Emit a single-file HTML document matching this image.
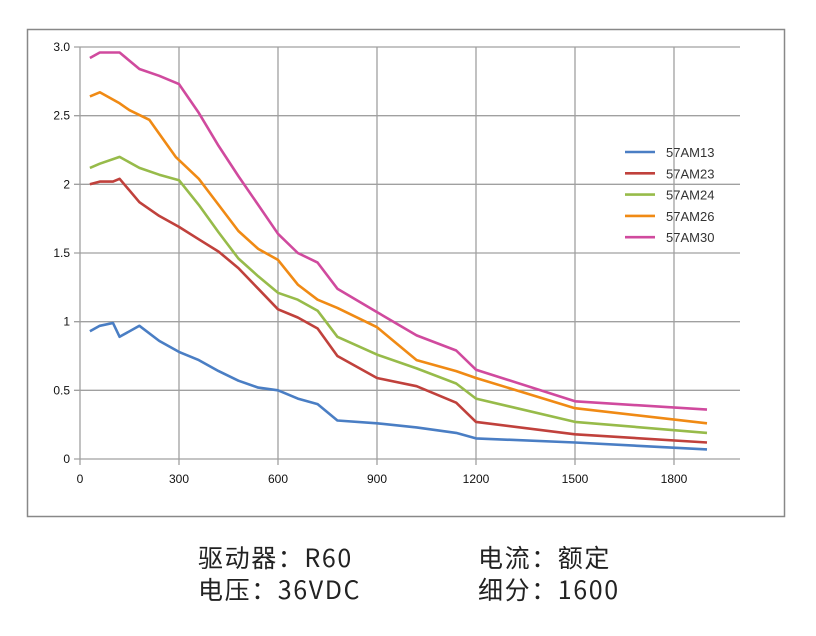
<!DOCTYPE html>
<html><head><meta charset="utf-8"><style>
body{margin:0;background:#fff;width:816px;height:636px;overflow:hidden;font-family:"Liberation Sans","Noto Sans CJK SC",sans-serif}
.cap{position:absolute;font-size:25px;color:#222;font-family:"Noto Sans CJK SC","Liberation Sans",sans-serif;letter-spacing:1.6px}
</style></head><body>
<svg width="816" height="636" style="position:absolute;left:0;top:0">
<rect x="27.5" y="29.5" width="757" height="487" fill="#fff" stroke="#888" stroke-width="1.5"/>
<g id="grid"></g><g id="series"></g><g id="legend"></g>
</svg>
<div class="cap" style="left:198px;top:539px">驱动器：R60</div>
<div class="cap" style="left:478px;top:539px">电流：额定</div>
<div class="cap" style="left:198px;top:571px">电压：36VDC</div>
<div class="cap" style="left:478px;top:571px">细分：1600</div>
<script>
const xTicks=[0,300,600,900,1200,1500,1800];
const yTicks=[0,0.5,1,1.5,2,2.5,3];
const yTickLabels=["0","0.5","1","1.5","2","2.5","3.0"];
const seriesNames=["57AM13","57AM23","57AM24","57AM26","57AM30"];
const seriesColors=["#4a7ec4","#c0413c","#97bb4a","#f08a14","#d04a9e"];
const xBlue=[30,60,100,120,180,240,300,360,420,480,540,600,660,720,780,900,1020,1140,1200,1500,1900];
const yBlue=[0.93,0.97,0.99,0.89,0.97,0.86,0.78,0.72,0.64,0.57,0.52,0.50,0.44,0.40,0.28,0.26,0.23,0.19,0.15,0.12,0.07];
const xRed=[30,60,100,120,180,240,300,360,420,480,540,600,660,720,780,900,1020,1140,1200,1500,1900];
const yRed=[2.0,2.02,2.02,2.04,1.87,1.77,1.69,1.60,1.51,1.39,1.24,1.09,1.03,0.95,0.75,0.59,0.53,0.41,0.27,0.18,0.12];
const xGreen=[30,60,120,180,240,300,360,420,480,540,600,660,720,780,900,1020,1140,1200,1500,1900];
const yGreen=[2.12,2.15,2.20,2.12,2.07,2.03,1.85,1.65,1.46,1.33,1.21,1.16,1.08,0.89,0.76,0.66,0.55,0.44,0.27,0.19];
const xOrange=[30,60,120,150,210,290,360,420,480,540,600,660,720,780,900,1020,1140,1200,1500,1900];
const yOrange=[2.64,2.67,2.59,2.54,2.47,2.20,2.04,1.85,1.66,1.53,1.45,1.27,1.16,1.10,0.96,0.72,0.64,0.59,0.37,0.26];
const xPink=[30,60,120,180,240,300,360,420,480,540,600,660,720,780,900,1020,1140,1200,1500,1900];
const yPink=[2.92,2.96,2.96,2.84,2.79,2.73,2.52,2.28,2.06,1.85,1.64,1.50,1.43,1.24,1.07,0.90,0.79,0.65,0.42,0.36];
const allX=[xBlue,xRed,xGreen,xOrange,xPink], allY=[yBlue,yRed,yGreen,yOrange,yPink];
const NS="http://www.w3.org/2000/svg";
const X0=80,X1=740,Y0=459,Y1=47;
const sx=v=>X0+v*(99/300);
const sy=v=>Y0-v*(Y0-Y1)/3;
function mk(t,a,p){const e=document.createElementNS(NS,t);for(const k in a)e.setAttribute(k,a[k]);p.appendChild(e);return e;}
const g=document.getElementById('grid');
yTicks.forEach((v,i)=>{
 const l=mk('line',{x1:X0-6,x2:X1,y1:sy(v),y2:sy(v),stroke:'#a0a0a0','stroke-width':1.3},g);
 
 
 const t=mk('text',{x:70,y:sy(v)+4,'text-anchor':'end','font-size':12,fill:'#111'},g);
 t.textContent=yTickLabels[i];
 
 
});
xTicks.forEach(v=>{
 const l=mk('line',{x1:sx(v),x2:sx(v),y1:Y1,y2:Y0+6,stroke:'#a0a0a0','stroke-width':1.3},g);
 
 
 const t=mk('text',{x:sx(v),y:483,'text-anchor':'middle','font-size':12,fill:'#111'},g);
 t.textContent=String(v);
 
 
});
const s=document.getElementById('series');
allX.forEach((xs,i)=>{
 const pts=xs.map((x,j)=>sx(x).toFixed(1)+','+sy(allY[i][j]).toFixed(1)).join(' ');
 const p=mk('polyline',{points:pts,fill:'none',stroke:seriesColors[i],'stroke-width':2.6,'stroke-linejoin':'round'},s);
 
 
});
const lg=document.getElementById('legend');
seriesNames.forEach((n,i)=>{
 const y=152+i*21.3;
 const l=mk('line',{x1:625,x2:655,y1:y,y2:y,stroke:seriesColors[i],'stroke-width':2.6},lg);
 
 
 const t=mk('text',{x:666,y:y+5,'font-size':13,fill:'#333'},lg);
 t.textContent=n;
 
 
});
</script>
</body></html>
